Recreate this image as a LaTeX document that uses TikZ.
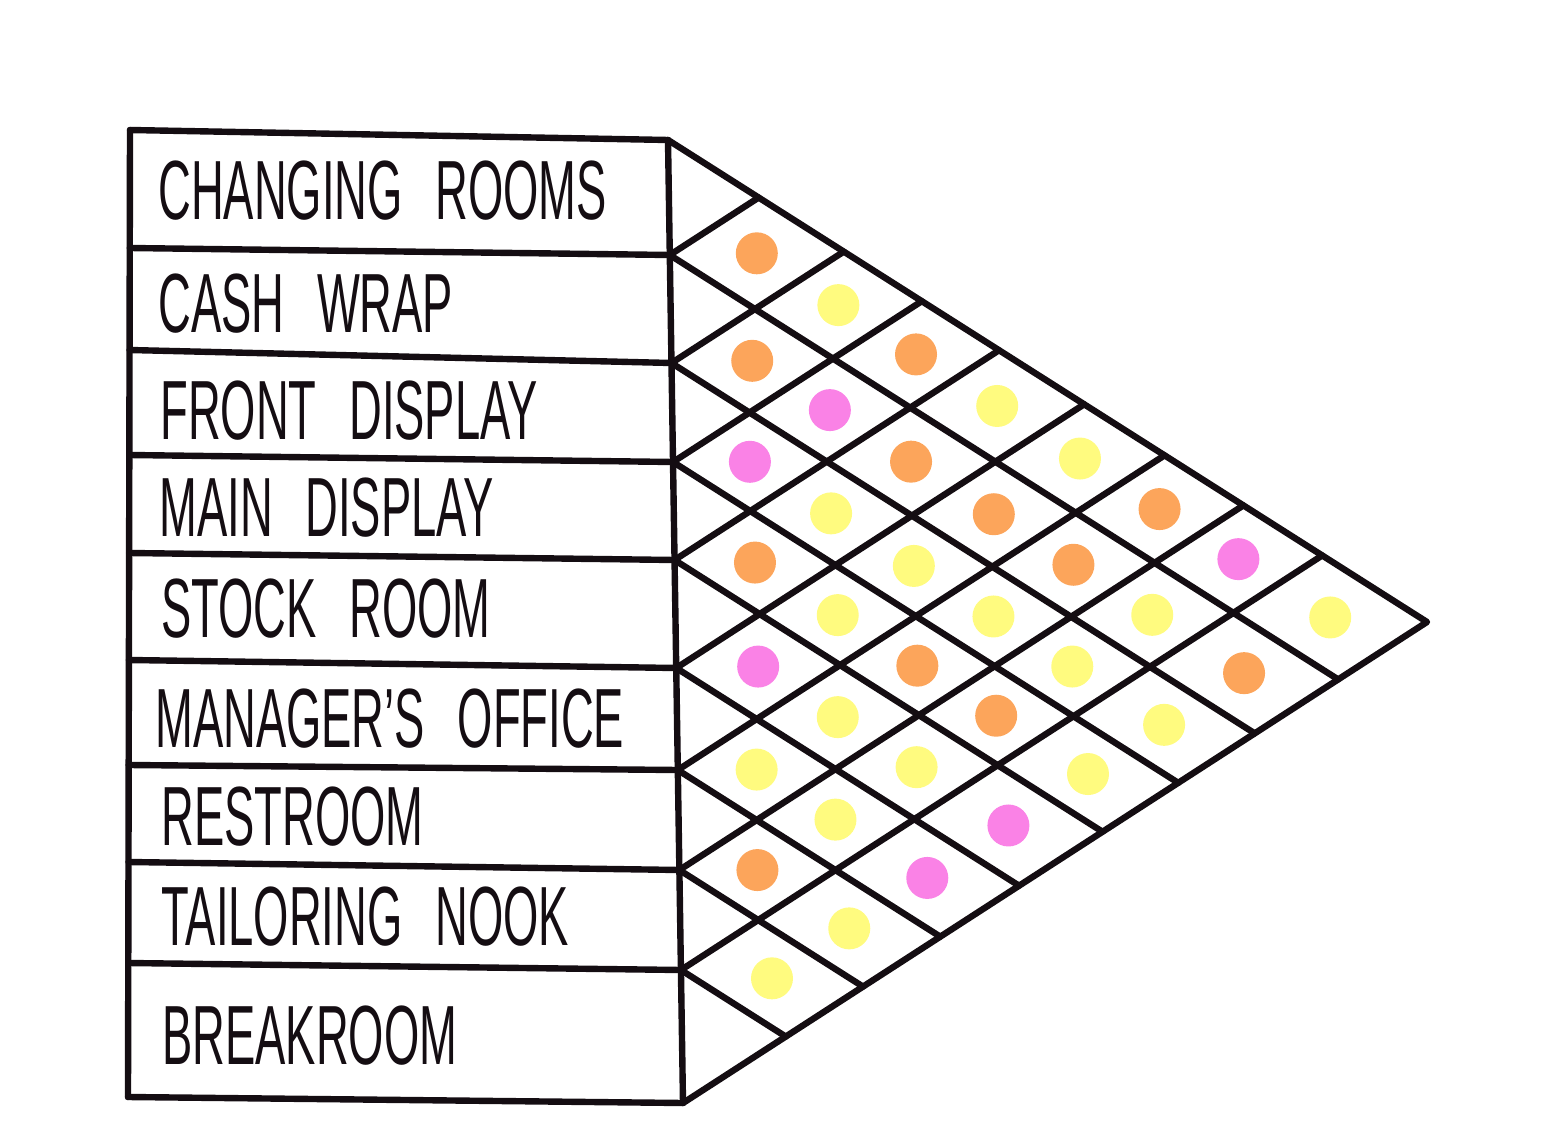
\documentclass[tikz,border=0pt]{standalone}
\usepackage{fontspec}
\newfontfamily\handfont{Liberation Sans}[FakeStretch=0.54,WordSpace=2.6]
\usepackage{tikz}
\usetikzlibrary{calc}
\definecolor{Ink}{HTML}{140D12}
\definecolor{DotOrange}{HTML}{FCA55B}
\definecolor{DotYellow}{HTML}{FFFB7F}
\definecolor{DotPink}{HTML}{FA82E6}
\tikzset{
  ink/.style={draw=Ink,line width=3.2pt,line cap=round,line join=round},
  room/.style={anchor=west,inner sep=0pt,text depth=0pt,text=Ink,
    font=\handfont\fontsize{42}{50}\selectfont},
  spot/.style={circle,inner sep=0pt,minimum size=21pt,fill=#1}
}

\begin{document}
\begin{tikzpicture}[x=0.5pt,y=-0.5pt]
  \useasboundingbox (0,0) rectangle (1563,1122);
  \foreach \k/\y/\ly in {0/140/130,1/255/248,2/363/350,3/462/455,4/560/553,
      5/668/660,6/770/765,7/870/862,8/970/963,9/1103/1097} {
    \coordinate (r\k) at ({668+(\y-140)*15/963},\y);
    \coordinate (l\k) at ({130-(\ly-130)*2/967},\ly);
  }
  \coordinate (apex) at (1427,622);
  \foreach \k in {0,...,9} {
    \coordinate (u\k) at ($(r\k)+(apex)-(r9)$);
    \coordinate (d\k) at ($(r\k)+(apex)-(r0)$);
  }
  \foreach \i [evaluate=\i as \h using int(\i-1)] in {1,...,9} {
    \coordinate (c\i) at ($(r\h)!0.5!(r\i)$);
    \coordinate (cu\i) at ($(c\i)+(apex)-(r9)$);
    \coordinate (cd\i) at ($(c\i)+(apex)-(r0)$);
  }

  \node[room] (changing) at (158,190) {CHANGING ROOMS};
  \node[room] (cashwrap) at (158,303) {CASH WRAP};
  \node[room] (front) at (160,410) {FRONT DISPLAY};
  \node[room] (main) at (159,507) {MAIN DISPLAY};
  \node[room] (stock) at (161,608) {STOCK ROOM};
  \node[room] (manager) at (155,718) {MANAGER’S OFFICE};
  \node[room] (restroom) at (161,816) {RESTROOM};
  \node[room] (tailoring) at (161,916) {TAILORING NOOK};
  \node[room] (breakroom) at (162,1035) {BREAKROOM};

  \draw[ink] (l0) -- (l9);
  \draw[ink] (r0) -- (r9);
  \foreach \k in {0,...,9}
    \draw[ink] (l\k) -- (r\k);
  \draw[ink] (r0) -- (apex) -- (r9);
  \foreach \k in {1,...,8}
    \draw[ink] (intersection cs: first line={(r\k)--(u\k)}, second line={(r0)--(apex)})
      -- (r\k) -- (intersection cs: first line={(r\k)--(d\k)}, second line={(r9)--(apex)});

  \foreach \i/\j/\c in {1/2/DotOrange,1/3/DotYellow,1/4/DotOrange,1/5/DotYellow,
      1/6/DotYellow,1/7/DotOrange,1/8/DotPink,1/9/DotYellow,
      2/3/DotOrange,2/4/DotPink,2/5/DotOrange,2/6/DotOrange,2/7/DotOrange,
      2/8/DotYellow,2/9/DotOrange,
      3/4/DotPink,3/5/DotYellow,3/6/DotYellow,3/7/DotYellow,3/8/DotYellow,3/9/DotYellow,
      4/5/DotOrange,4/6/DotYellow,4/7/DotOrange,4/8/DotOrange,4/9/DotYellow,
      5/6/DotPink,5/7/DotYellow,5/8/DotYellow,5/9/DotPink,
      6/7/DotYellow,6/8/DotYellow,6/9/DotPink,
      7/8/DotOrange,7/9/DotYellow,
      8/9/DotYellow}
    \node[spot=\c] (s\i\j) at (intersection cs: first line={(c\i)--(cd\i)},
      second line={(c\j)--(cu\j)}) {};
\end{tikzpicture}
\end{document}
